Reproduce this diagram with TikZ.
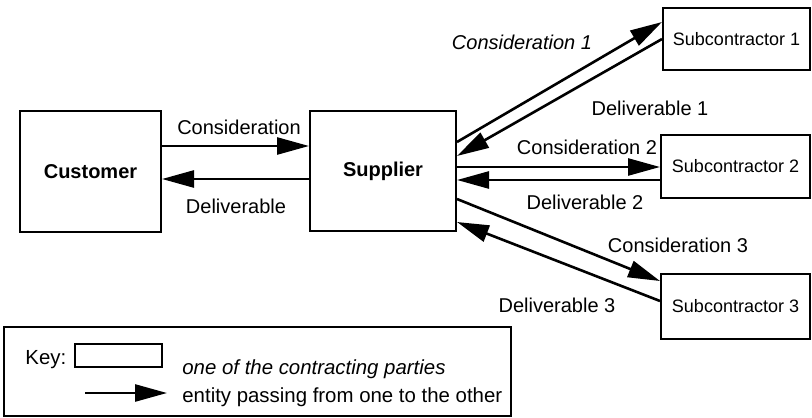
\documentclass[tikz,border=0pt]{standalone}
\usepackage{fontspec}
\setmainfont{Liberation Sans}
\usetikzlibrary{arrows.meta}

\begin{document}
\begin{tikzpicture}[
  x=0.5pt, y=-0.5pt,
  party/.style={draw, line width=1pt, inner sep=0pt},
  sub/.style={party, minimum width=74.5pt, font=\fontsize{9}{11}\selectfont},
  flow/.style={-{Triangle[length=16pt,width=8.5pt]}, line width=1.3pt},
  lbl/.style={inner sep=0pt},
  keylbl/.style={lbl, anchor=base west, font=\fontsize{10.2}{12}\selectfont}
]
  \useasboundingbox (0,0) rectangle (812,417);

  % contracting parties
  \node[party, minimum width=70.5pt, minimum height=60.5pt, font=\bfseries] (customer) at (90.5,171.5) {Customer};
  \node[party, minimum width=73pt, minimum height=60pt, font=\bfseries] (supplier) at (383,171) {Supplier};
  \node[sub, minimum width=73.5pt, minimum height=31pt] (sub1) at (736.5,39) {Subcontractor 1};
  \node[sub, minimum height=31.5pt] (sub2) at (735.5,166.5) {Subcontractor 2};
  \node[sub, minimum height=32.5pt] (sub3) at (735.5,306.5) {Subcontractor 3};

  % what passes between them
  \draw[flow] ([yshift=-18pt]customer.north east) -- ([yshift=-18pt]supplier.north west);
  \draw[flow] ([yshift=-34.5pt]supplier.north west) -- ([yshift=-34.5pt]customer.north east);
  \draw[flow] ([yshift=-16pt]supplier.north east) -- ([yshift=-7.5pt]sub1.north west);
  \draw[flow] (sub1.west) -- ([yshift=-23pt]supplier.north east);
  \draw[flow] ([yshift=-28.5pt]supplier.north east) -- ([yshift=-16.5pt]sub2.north west);
  \draw[flow] ([yshift=-23pt]sub2.north west) -- ([yshift=-35pt]supplier.north east);
  \draw[flow] ([yshift=-44.5pt]supplier.north east) -- ([yshift=-4pt]sub3.north west);
  \draw[flow] ([yshift=-14pt]sub3.north west) -- ([yshift=-56pt]supplier.north east);

  \node[lbl] (cons) at (239,127) {Consideration};
  \node[lbl] (deliv) at (236,206) {Deliverable};
  \node[lbl, font=\itshape] (cons1) at (522,42) {Consideration 1};
  \node[lbl] (deliv1) at (650,108) {Deliverable 1};
  \node[lbl] (cons2) at (587,147) {Consideration 2};
  \node[lbl] (deliv2) at (585,202) {Deliverable 2};
  \node[lbl] (cons3) at (678,245) {Consideration 3};
  \node[lbl] (deliv3) at (557,305) {Deliverable 3};

  % key
  \node[draw, line width=0.7pt, minimum width=253.5pt, minimum height=44.5pt, inner sep=0pt] (key) at (257.5,371.5) {};
  \node[keylbl] (keytxt) at (25,364) {Key:};
  \node[party, minimum width=43.5pt, minimum height=11.5pt] (keybox) at (118.5,355.5) {};
  \coordinate (keyfrom) at (85,393);
  \coordinate (keyto) at (167,393);
  \draw[flow] (keyfrom) -- (keyto);
  \node[keylbl, font=\fontsize{10.2}{12}\selectfont\itshape] (partytxt) at (182,374) {one of the contracting parties};
  \node[keylbl] (flowtxt) at (182,402) {entity passing from one to the other};
\end{tikzpicture}
\end{document}
